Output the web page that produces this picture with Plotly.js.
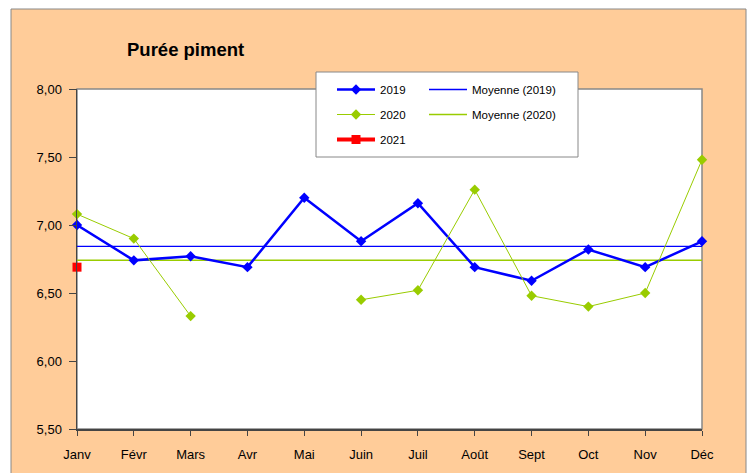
<!DOCTYPE html>
<html>
<head>
<meta charset="utf-8">
<script src="https://cdn.plot.ly/plotly-3.0.1.min.js"></script>
<style>html,body{margin:0;padding:0;background:#fff;}#chart{width:754px;height:473px;}</style>
</head>
<body>
<div id="chart"></div>
<script>
const months = ["Janv","Févr","Mars","Avr","Mai","Juin","Juil","Août","Sept","Oct","Nov","Déc"];
const v2019 = [7.00, 6.74, 6.77, 6.69, 7.20, 6.88, 7.16, 6.69, 6.59, 6.82, 6.69, 6.88];
const v2020 = [7.08, 6.90, 6.33, null, null, 6.45, 6.52, 7.26, 6.48, 6.40, 6.50, 7.48];
const v2021 = [6.69];
const yTicks = [5.5, 6.0, 6.5, 7.0, 7.5, 8.0];

function mean(a){const v=a.filter(x=>x!==null);return v.reduce((s,x)=>s+x,0)/v.length;}
const m2019 = mean(v2019), m2020 = mean(v2020);

const BLUE = "#0000FF", GREEN = "#99CC00", RED = "#FF0000";
const FONT = "Liberation Sans, Arial, sans-serif";

const traces = [
  {x: months, y: months.map(()=>m2019), name: "Moyenne (2019)", mode: "lines",
   line: {color: BLUE, width: 1.3}, legend: "legend2", legendgroup: "m19", cliponaxis: false, hoverinfo: "skip"},
  {x: months, y: months.map(()=>m2020), name: "Moyenne (2020)", mode: "lines",
   line: {color: GREEN, width: 1.5}, legend: "legend2", legendgroup: "m20", cliponaxis: false, hoverinfo: "skip"},
  {x: months, y: v2019, name: "2019", mode: "lines+markers",
   line: {color: BLUE, width: 2.5}, marker: {symbol: "diamond", size: 8, color: BLUE},
   legend: "legend", legendgroup: "a19", cliponaxis: false, hoverinfo: "skip"},
  {x: months, y: v2020, name: "2020", mode: "lines+markers", connectgaps: false,
   line: {color: GREEN, width: 1}, marker: {symbol: "diamond", size: 8, color: GREEN},
   legend: "legend", legendgroup: "a20", cliponaxis: false, hoverinfo: "skip"},
  {x: months.slice(0, v2021.length), y: v2021, name: "2021", mode: "lines+markers",
   line: {color: RED, width: 4}, marker: {symbol: "square", size: 9, color: RED},
   legend: "legend", legendgroup: "a21", cliponaxis: false, hoverinfo: "skip"}
];

const H = 340, W = 625;
const layout = {
  width: 754, height: 473,
  margin: {l: 77, r: 52, t: 89, b: 44, pad: 0},
  paper_bgcolor: "#FFFFFF",
  plot_bgcolor: "#FFFFFF",
  separators: ", ",
  font: {family: FONT, size: 13, color: "#000"},
  showlegend: true,
  hovermode: false,
  title: {text: "<b>Purée piment</b>", font: {family: FONT, size: 18.5, color: "#000"},
          xref: "container", yref: "container", x: 127/754, xanchor: "left",
          y: 1 - 50/473, yanchor: "middle"},
  xaxis: {
    type: "category", categoryarray: months, range: [0, months.length - 1],
    showgrid: false, zeroline: false, showline: true, linecolor: "#444", linewidth: 1.5,
    ticks: "outside", ticklen: 5, tickcolor: "#444", tickwidth: 1,
    ticklabelstandoff: 8, tickfont: {family: FONT, size: 13, color: "#000"}
  },
  yaxis: {
    range: [5.5, 8.0], tickvals: yTicks, tickformat: ".2f",
    showgrid: false, zeroline: false, showline: true, linecolor: "#444", linewidth: 1.5,
    ticks: "outside", ticklen: 7, tickcolor: "#444", tickwidth: 1,
    ticklabelstandoff: 4, tickfont: {family: FONT, size: 13, color: "#000"}
  },
  legend: {
    x: (332-77)/W, xanchor: "left", y: 1 + 14/H, yanchor: "top",
    bgcolor: "rgba(0,0,0,0)", borderwidth: 0,
    font: {family: FONT, size: 11.5, color: "#000"},
    traceorder: "grouped", tracegroupgap: 6, itemwidth: 38, itemclick: false, itemdoubleclick: false
  },
  legend2: {
    x: (424-77)/W, xanchor: "left", y: 1 + 14/H, yanchor: "top",
    bgcolor: "rgba(0,0,0,0)", borderwidth: 0,
    font: {family: FONT, size: 11.5, color: "#000"},
    traceorder: "grouped", tracegroupgap: 6, itemwidth: 38, itemclick: false, itemdoubleclick: false
  },
  shapes: [
    {type: "rect", xref: "paper", yref: "paper", layer: "below",
     x0: (11-77)/W, x1: (746-77)/W, y0: (429-480)/H, y1: (429-9)/H,
     fillcolor: "#FFCC99", line: {color: "#888", width: 1}},
    {type: "rect", xref: "paper", yref: "paper", layer: "below",
     x0: 0, x1: 1, y0: 0, y1: 1, fillcolor: "#FFFFFF", line: {color: "#888", width: 1.5}},
    {type: "rect", xref: "paper", yref: "paper", layer: "above",
     x0: (316-77)/W, x1: (578-77)/W, y0: (429-157)/H, y1: (429-72)/H,
     fillcolor: "#FFFFFF", line: {color: "#888", width: 1}}
  ]
};

Plotly.newPlot("chart", traces, layout, {displayModeBar: false, staticPlot: true});
</script>
</body>
</html>
